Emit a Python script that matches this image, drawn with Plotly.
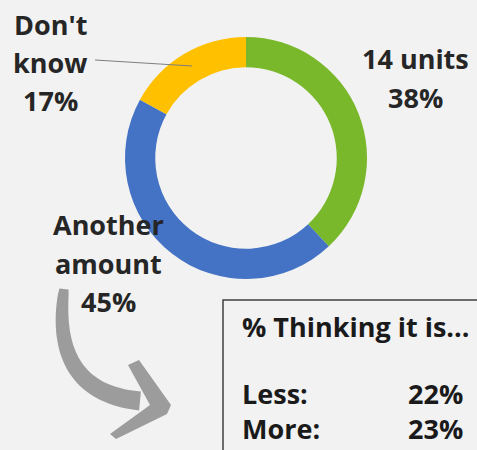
import numpy as np
import plotly.graph_objects as go

# Survey answers: how many units people think the guideline is
categories = ["14 units", "Another amount", "Don't know"]
shares = [38, 45, 17]
colors = ["#78B82A", "#4472C4", "#FFC000"]

# Breakdown of the "Another amount" group
detail_labels = ["Less:", "More:"]
detail_values = [22, 23]
detail_title = "% Thinking it is..."

W, H = 477, 450
BG = "#F2F2F2"
INK = "#262626"

fig = go.Figure()

# Donut ring
cx, cy, r_out = 246, 158, 121
fig.add_trace(go.Pie(
    labels=categories,
    values=shares,
    marker=dict(colors=colors, line=dict(width=0)),
    hole=0.75,
    sort=False,
    direction="clockwise",
    rotation=0,
    textinfo="none",
    hoverinfo="label+percent",
    showlegend=False,
    domain=dict(x=[(cx - r_out) / W, (cx + r_out) / W],
                y=[1 - (cy + r_out) / H, 1 - (cy - r_out) / H]),
))

# Invisible helper trace so the pixel-space axes exist for annotations/shapes
fig.add_trace(go.Scatter(x=[0, W], y=[0, H], mode="markers",
                         marker=dict(opacity=0), hoverinfo="skip",
                         showlegend=False))

lab_font = dict(family="Open Sans", size=27, color=INK)

def add_lines(lines, x, ys, font, anchor="center"):
    for t, y in zip(lines, ys):
        fig.add_annotation(x=x, y=y, xref="x", yref="y", text=f"<b>{t}</b>",
                           showarrow=False, xanchor=anchor, yanchor="middle",
                           font=font)

# Slice labels
label_layout = {
    "14 units": (415, [58, 97], ["14 units"]),
    "Another amount": (108, [224, 263, 301], ["Another", "amount"]),
    "Don't know": (50, [24, 62, 100], ["Don't", "know"]),
}
for cat, val in zip(categories, shares):
    x, ys, words = label_layout[cat]
    add_lines(words + [f"{val}%"], x, ys, lab_font)

shapes = []
# Leader line from "Don't know" into its slice
shapes.append(dict(type="line", xref="x", yref="y", x0=95, y0=60, x1=192, y1=66,
                   line=dict(color="#7F7F7F", width=1.2), layer="above"))

# Curved brush-style arrow pointing to the detail box
ARROW = "#979797"
p0, p1, p2 = np.array([64, 289]), np.array([50, 392]), np.array([140, 401])
t = np.linspace(0, 1, 40)
pts = ((1 - t)[:, None] ** 2) * p0 + (2 * (1 - t) * t)[:, None] * p1 + (t[:, None] ** 2) * p2
d = 2 * (1 - t)[:, None] * (p1 - p0) + 2 * t[:, None] * (p2 - p1)
n = np.stack([-d[:, 1], d[:, 0]], axis=1)
n /= np.linalg.norm(n, axis=1)[:, None]
hw = 4.5 + 5 * np.sqrt(t)
left = pts + n * hw[:, None]
right = pts - n * hw[:, None]
poly = np.vstack([left, right[::-1]])
path = "M " + " L ".join(f"{px:.1f},{py:.1f}" for px, py in poly) + " Z"
shapes.append(dict(type="path", xref="x", yref="y", path=path,
                   fillcolor=ARROW, line=dict(width=0), opacity=0.95, layer="above"))
head = [(128, 365), (139, 360), (171, 405), (167, 414), (116, 439), (110, 434), (150, 405)]
hpath = "M " + " L ".join(f"{a},{b}" for a, b in head) + " Z"
shapes.append(dict(type="path", xref="x", yref="y", path=hpath,
                   fillcolor=ARROW, line=dict(width=0), opacity=0.95, layer="above"))

# Detail box
shapes.append(dict(type="rect", xref="x", yref="y", x0=223, y0=300, x1=495, y1=470,
                   line=dict(color="#404040", width=1.5), fillcolor=BG, layer="above"))

box_font = dict(family="Open Sans", size=27, color="#1A1A1A")
fig.add_annotation(x=240, y=326, xref="x", yref="y", text=f"<b>{detail_title}</b>",
                   showarrow=False, xanchor="left", yanchor="middle", font=box_font)
# Less / More rows: one text block per column
fig.add_annotation(x=240, y=411, xref="x", yref="y",
                   text="<br>".join(f"<b>{lab}</b>" for lab in detail_labels),
                   showarrow=False, xanchor="left", yanchor="middle", align="left",
                   font=box_font)
fig.add_annotation(x=465, y=411, xref="x", yref="y",
                   text="<br>".join(f"<b>{val}%</b>" for val in detail_values),
                   showarrow=False, xanchor="right", yanchor="middle", align="right",
                   font=box_font)

fig.update_layout(
    width=W, height=H,
    margin=dict(l=0, r=0, t=0, b=0),
    paper_bgcolor=BG, plot_bgcolor=BG,
    xaxis=dict(range=[0, W], visible=False, domain=[0, 1], fixedrange=True),
    yaxis=dict(range=[H, 0], visible=False, domain=[0, 1], fixedrange=True),
    shapes=shapes,
)

fig.write_html("out.html")
